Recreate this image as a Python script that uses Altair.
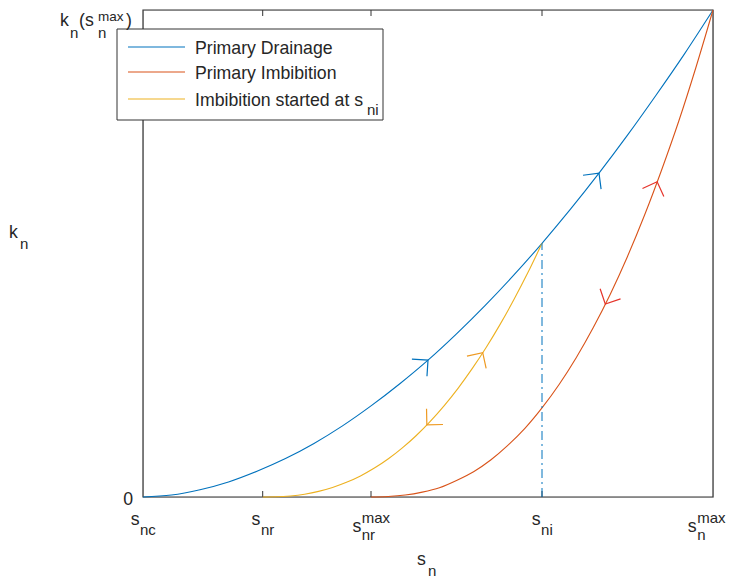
import altair as alt
import pandas as pd
import numpy as np

# ---------------- data ----------------
drain_x = [0.00, 0.05, 0.10, 0.15, 0.20, 0.25, 0.30, 0.35, 0.40, 0.45, 0.50,
           0.55, 0.60, 0.65, 0.70, 0.75, 0.80, 0.85, 0.90, 0.95, 1.00]
drain_y = [0.000, 0.004, 0.015, 0.031, 0.053, 0.079, 0.110, 0.146, 0.187, 0.232, 0.281,
           0.335, 0.393, 0.455, 0.521, 0.591, 0.665, 0.743, 0.825, 0.910, 1.000]

imb_x = [0.40, 0.43, 0.46, 0.49, 0.52, 0.55, 0.58, 0.61, 0.64, 0.67, 0.70,
         0.73, 0.76, 0.79, 0.82, 0.85, 0.88, 0.91, 0.94, 0.97, 1.00]
imb_y = [0.000, 0.001, 0.004, 0.010, 0.019, 0.034, 0.052, 0.076, 0.106, 0.141, 0.183,
         0.231, 0.286, 0.348, 0.417, 0.494, 0.579, 0.672, 0.772, 0.882, 1.000]

scan_x = [0.210, 0.2345, 0.259, 0.2835, 0.308, 0.3325, 0.357, 0.3815, 0.406, 0.4305, 0.455,
          0.4795, 0.504, 0.5285, 0.553, 0.5775, 0.602, 0.6265, 0.651, 0.6755, 0.700]
scan_y = [0.000, 0.0004, 0.0022, 0.0058, 0.0115, 0.0195, 0.0301, 0.0433, 0.0594, 0.0785, 0.1008,
          0.1263, 0.1553, 0.1877, 0.2237, 0.2635, 0.3070, 0.3545, 0.4060, 0.4613, 0.521]

series_names = ["Primary Drainage", "Primary Imbibition", "Imbibition started at s"]

tick_x = [0.00, 0.21, 0.40, 0.70, 1.00]
tick_sub = ["nc", "nr", "nr", "ni", "n"]
tick_sup = ["", "", "max", "", "max"]
s_ni = 0.70

arrow_series = ["Primary Drainage", "Primary Drainage", "Imbibition started at s",
                "Imbibition started at s", "Primary Imbibition", "Primary Imbibition"]
arrow_x = [0.50, 0.80, 0.596, 0.498, 0.902, 0.811]
arrow_dir = [1, 1, 1, -1, 1, -1]

# ---------------- styling ----------------
W, H = 570, 487
PAD = {"left": 135, "top": 2, "right": 14, "bottom": 82}
FONT = "Liberation Sans"
FS, FS2 = 17.7, 15
TXT = "#262626"
FRAME = "#333333"
line_colors = ["#0072BD", "#D95319", "#EDB120"]
arrow_colors = {"Primary Drainage": "#0072BD", "Primary Imbibition": "#E5332A",
                "Imbibition started at s": "#EE9A22"}

xs = alt.Scale(domain=[0, 1], nice=False, zero=False)
ys = alt.Scale(domain=[0, 1], nice=False, zero=False)

curves = {series_names[0]: (drain_x, drain_y),
          series_names[1]: (imb_x, imb_y),
          series_names[2]: (scan_x, scan_y)}

rows = []
for name, (cx, cy) in curves.items():
    for i, (a, b) in enumerate(zip(cx, cy)):
        rows.append({"series": name, "x": a, "y": b, "i": i})
curve_df = pd.DataFrame(rows)

# arrows placed on the curves, oriented along the local tangent
arows = []
for s, ax, d in zip(arrow_series, arrow_x, arrow_dir):
    cx, cy = np.array(curves[s][0]), np.array(curves[s][1])
    ay = float(np.interp(ax, cx, cy))
    slope = float(np.interp(ax, cx, np.gradient(cy, cx)))
    ang = np.degrees(np.arctan2(-d * slope * H, d * W)) % 360
    arows.append({"x": ax, "y": ay, "ang": ang, "col": arrow_colors[s]})
arrow_df = pd.DataFrame(arows)

frame = alt.Chart(pd.DataFrame({"a": [0]})).mark_rect(
    fillOpacity=0, stroke=FRAME, strokeWidth=1.2
).encode(x=alt.value(0), x2=alt.value(W), y=alt.value(0), y2=alt.value(H))

tick_df = pd.DataFrame({"x": tick_x[1:4]})
ticks_b = alt.Chart(tick_df).mark_rule(color=FRAME, strokeWidth=1).encode(
    x=alt.X("x:Q", scale=xs, axis=None), y=alt.value(H), y2=alt.value(H - 6))
ticks_t = alt.Chart(tick_df).mark_rule(color=FRAME, strokeWidth=1).encode(
    x=alt.X("x:Q", scale=xs, axis=None), y=alt.value(0), y2=alt.value(6))

lines = alt.Chart(curve_df).mark_line(strokeWidth=1.1, interpolate="monotone").encode(
    x=alt.X("x:Q", scale=xs, axis=None),
    y=alt.Y("y:Q", scale=ys, axis=None),
    color=alt.Color("series:N", scale=alt.Scale(domain=series_names, range=line_colors), legend=None),
    order="i:Q",
)

vline_df = pd.DataFrame({"x": [s_ni], "y0": [0.0], "y1": [float(np.interp(s_ni, drain_x, drain_y))]})
vline = alt.Chart(vline_df).mark_rule(color="#0072BD", strokeWidth=1, strokeDash=[9, 4, 2, 4]).encode(
    x=alt.X("x:Q", scale=xs, axis=None), y=alt.Y("y0:Q", scale=ys, axis=None), y2="y1:Q")

arrows = alt.Chart(arrow_df).mark_point(
    shape="M-1,-1L0,0L-1,1", filled=False, size=520, strokeWidth=1.2, opacity=1
).encode(
    x=alt.X("x:Q", scale=xs, axis=None),
    y=alt.Y("y:Q", scale=ys, axis=None),
    angle=alt.Angle("ang:Q", scale=None),
    color=alt.Color("col:N", scale=None),
)


def txt(s, size, py, px=None, xd=None, align="left", dx=0, baseline="alphabetic"):
    df = pd.DataFrame({"t": [s], "x": [xd if xd is not None else 0]})
    enc = {"text": "t:N", "y": alt.value(py)}
    if xd is None:
        enc["x"] = alt.value(px)
    else:
        enc["x"] = alt.X("x:Q", scale=xs, axis=None)
    return alt.Chart(df).mark_text(
        align=align, baseline=baseline, dx=dx, fontSize=size, font=FONT, color=TXT
    ).encode(**enc)


CW = {"s": 500, "n": 556, "c": 500, "r": 333, "i": 222, "m": 833, "a": 556, "x": 500}


def tw(s, fs):
    return sum(CW[c] for c in s) * fs / 1000


texts = []
for tx, sub, sup in zip(tick_x, tick_sub, tick_sup):
    ws = tw("s", FS)
    wsc = max(tw(sub, FS2), tw(sup, FS2) if sup else 0)
    anc = (ws - wsc) / 2
    right_end = tx * W + anc + 0.5 + wsc
    limit = W + PAD["right"] - 1.5
    if right_end > limit:
        anc -= right_end - limit
    if sup:
        sb, subb, supb = H + 35, H + 43, H + 26
    else:
        sb, subb, supb = H + 28, H + 38, 0
    texts.append(txt("s", FS, sb, xd=tx, align="right", dx=anc))
    texts.append(txt(sub, FS2, subb, xd=tx, align="left", dx=anc + 0.5))
    if sup:
        texts.append(txt(sup, FS2, supb, xd=tx, align="left", dx=anc + 0.5))

# y labels
texts.append(txt("0", FS, H + 8, px=-10, align="right"))
texts += [
    txt("k", FS, 16, px=-83),
    txt("n", FS2, 28, px=-73),
    txt("(s", FS, 16, px=-64),
    txt("max", 13.5, 11, px=-45),
    txt("n", FS2, 28, px=-45),
    txt(")", FS, 16, px=-17),
]
# axis titles
texts += [
    txt("k", FS, 228, px=-134),
    txt("n", FS2, 239, px=-123),
    txt("s", FS, 555, px=274),
    txt("n", FS2, 566, px=285),
]

# legend
leg_box = alt.Chart(pd.DataFrame({"a": [0]})).mark_rect(
    fill="white", stroke=FRAME, strokeWidth=1
).encode(x=alt.value(-26), x2=alt.value(240), y=alt.value(19), y2=alt.value(110))

leg_rows = [37, 62, 89]
leg_df = pd.DataFrame({"series": series_names, "ly": leg_rows})
leg_lines = alt.Chart(leg_df).mark_rule(strokeWidth=1.1).encode(
    x=alt.value(-15), x2=alt.value(42),
    y=alt.Y("ly:Q", scale=None),
    color=alt.Color("series:N", scale=alt.Scale(domain=series_names, range=line_colors), legend=None),
)
leg_texts = [txt(n, FS, r + 7, px=52) for n, r in zip(series_names, leg_rows)]
leg_texts.append(txt("ni", FS2, leg_rows[2] + 16, px=52 + 172))

chart = alt.layer(
    frame, ticks_b, ticks_t, lines, vline, arrows, leg_box, leg_lines, *leg_texts, *texts
).properties(
    width=W, height=H,
    padding=PAD,
    autosize=alt.AutoSizeParams(type="none"),
).configure_view(stroke=None).configure(background="white")

chart.save("out.html", embed_options={"renderer": "svg", "actions": False})
